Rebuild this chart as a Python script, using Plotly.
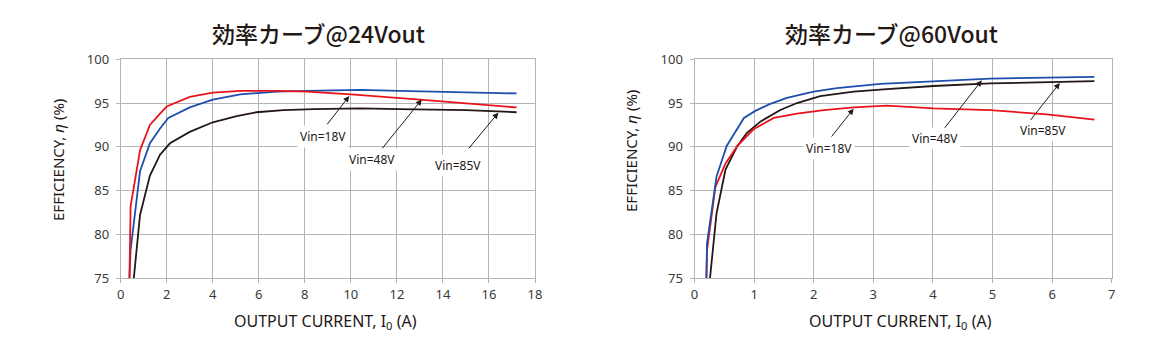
import plotly.graph_objects as go

# ---------------- data ----------------
# Left chart: 24Vout
x24_18 = [0.38, 0.43, 0.84, 1.27, 1.71, 2.0, 3.0, 4.0, 5.2, 6.8, 8.1, 10.0, 13.0, 15.0, 17.2]
y24_18 = [75, 83.2, 89.6, 92.5, 93.8, 94.6, 95.7, 96.2, 96.4, 96.4, 96.3, 96.0, 95.4, 95.0, 94.5]
x24_48 = [0.38, 0.43, 0.84, 1.27, 1.71, 2.07, 3.0, 4.0, 5.2, 6.8, 8.1, 10.4, 12.1, 15.0, 17.2]
y24_48 = [75, 78.2, 87.2, 90.4, 92.1, 93.3, 94.5, 95.4, 96.0, 96.3, 96.4, 96.5, 96.4, 96.2, 96.1]
x24_85 = [0.57, 0.84, 1.27, 1.71, 2.14, 3.0, 4.0, 5.04, 5.9, 7.07, 8.4, 10.4, 12.1, 15.0, 17.2]
y24_85 = [75, 82.2, 86.7, 89.1, 90.4, 91.7, 92.8, 93.5, 93.95, 94.2, 94.3, 94.4, 94.3, 94.2, 93.95]

# Right chart: 60Vout
x60_18 = [0.2, 0.21, 0.35, 0.52, 0.72, 0.99, 1.33, 1.72, 2.17, 2.67, 3.23, 4.01, 4.96, 5.91, 6.71]
y60_18 = [75, 78.2, 85.4, 88.1, 90.1, 92.0, 93.3, 93.8, 94.2, 94.5, 94.7, 94.4, 94.2, 93.7, 93.1]
x60_48 = [0.2, 0.21, 0.37, 0.54, 0.83, 1.02, 1.25, 1.55, 2.0, 2.39, 3.12, 4.01, 4.96, 5.91, 6.71]
y60_48 = [75, 79.0, 86.6, 90.1, 93.3, 94.1, 94.85, 95.6, 96.3, 96.7, 97.2, 97.5, 97.8, 97.9, 97.98]
x60_85 = [0.26, 0.37, 0.52, 0.72, 0.88, 1.11, 1.44, 1.72, 2.11, 2.67, 3.23, 4.01, 4.96, 5.91, 6.71]
y60_85 = [75, 82.4, 87.4, 90.1, 91.6, 92.9, 94.2, 95.0, 95.8, 96.3, 96.6, 96.95, 97.25, 97.4, 97.5]

titles = ["効率カーブ@24Vout", "効率カーブ@60Vout"]
labels = ["Vin=18V", "Vin=48V", "Vin=85V"]
x_title = "OUTPUT CURRENT, I<sub>0</sub> (A)"
y_title = "EFFICIENCY, <i>η</i> (%)"

# ---------------- styling ----------------
RED = "#e8141c"
BLUE = "#1d4fae"
BLACK = "#231815"
GRID = "#b4b4b4"
TXT = "#231815"
FONT = "Noto Sans, Noto Sans CJK JP, sans-serif"

fig = go.Figure()

def add_line(x, y, color, xa, ya):
    fig.add_trace(go.Scatter(x=x, y=y, mode="lines", xaxis=xa, yaxis=ya,
                             line=dict(color=color, width=1.8), showlegend=False,
                             hoverinfo="skip"))

add_line(x24_85, y24_85, BLACK, "x", "y")
add_line(x24_48, y24_48, BLUE, "x", "y")
add_line(x24_18, y24_18, RED, "x", "y")
add_line(x60_85, y60_85, BLACK, "x2", "y2")
add_line(x60_18, y60_18, RED, "x2", "y2")
add_line(x60_48, y60_48, BLUE, "x2", "y2")

ydom = [0.1965, 0.8286]
axcommon = dict(showgrid=True, gridcolor=GRID, gridwidth=1, showline=True, mirror=True,
                linecolor=GRID, linewidth=1, ticks="outside", ticklen=4, tickcolor=GRID,
                zeroline=False, automargin=False,
                tickfont=dict(family=FONT, size=13, color="#3a3a3a"),
                fixedrange=True)

fig.update_layout(
    width=1170, height=346, margin=dict(l=0, r=0, t=0, b=0, pad=0),
    autosize=False,
    paper_bgcolor="white", plot_bgcolor="white", showlegend=False,
    xaxis=dict(domain=[120.7 / 1170, 535 / 1170], range=[0, 18], dtick=2, anchor="y", **axcommon),
    yaxis=dict(domain=ydom, range=[75, 100], dtick=5, anchor="x", ticklabelstandoff=4, **axcommon),
    xaxis2=dict(domain=[694.5 / 1170, 1111.7 / 1170], range=[0, 7], dtick=1, anchor="y2", **axcommon),
    yaxis2=dict(domain=ydom, range=[75, 100], dtick=5, anchor="x2", ticklabelstandoff=4, **axcommon),
)

ann = []
# titles
for xc, t in [(318, titles[0]), (891, titles[1])]:
    ann.append(dict(text=t, x=xc / 1170, y=1 - 33 / 346, xref="paper", yref="paper",
                    showarrow=False, xanchor="center", yanchor="middle",
                    font=dict(family="Noto Sans CJK JP, sans-serif", size=23, color=TXT,
                              weight=500)))
# x titles
for xc in (325, 900):
    ann.append(dict(text=x_title, x=xc / 1170, y=1 - 321 / 346, xref="paper", yref="paper",
                    showarrow=False, xanchor="center", yanchor="middle",
                    font=dict(family=FONT, size=16, color=TXT)))
# y titles
for xc, yc in ((58, 160), (631, 151)):
    ann.append(dict(text=y_title, x=xc / 1170, y=1 - yc / 346, xref="paper", yref="paper",
                    showarrow=False, xanchor="center", yanchor="middle", textangle=-90,
                    font=dict(family=FONT, size=15, color=TXT)))

# label annotations: (text pos), (arrow tail), (arrow head)
lab24 = [((8.79, 91.2), (8.92, 92.4), (9.93, 95.8)),
         ((10.9, 88.5), (11.31, 89.65), (13.08, 95.4)),
         ((14.67, 87.86), (15.07, 89.65), (16.41, 93.9))]
lab60 = [((2.25, 89.77), (2.28, 91.0), (2.67, 94.35)),
         ((4.04, 90.9), (4.18, 92.0), (4.82, 97.6)),
         ((5.84, 91.9), (5.62, 92.9), (6.13, 97.3))]
for (xr, yr), group in (("x", "y"), lab24), (("x2", "y2"), lab60):
    for lab, (tp, tail, head) in zip(labels, group):
        ann.append(dict(text=lab, x=tp[0], y=tp[1], xref=xr, yref=yr, showarrow=False,
                        bgcolor="white", borderpad=2,
                        font=dict(family=FONT, size=12, color=TXT)))
        ann.append(dict(text="", x=head[0], y=head[1], ax=tail[0], ay=tail[1],
                        xref=xr, yref=yr, axref=xr, ayref=yr, showarrow=True,
                        arrowhead=2, arrowsize=1.2, arrowwidth=1, arrowcolor=BLACK))
fig.update_layout(annotations=ann)

fig.write_html("out.html")
